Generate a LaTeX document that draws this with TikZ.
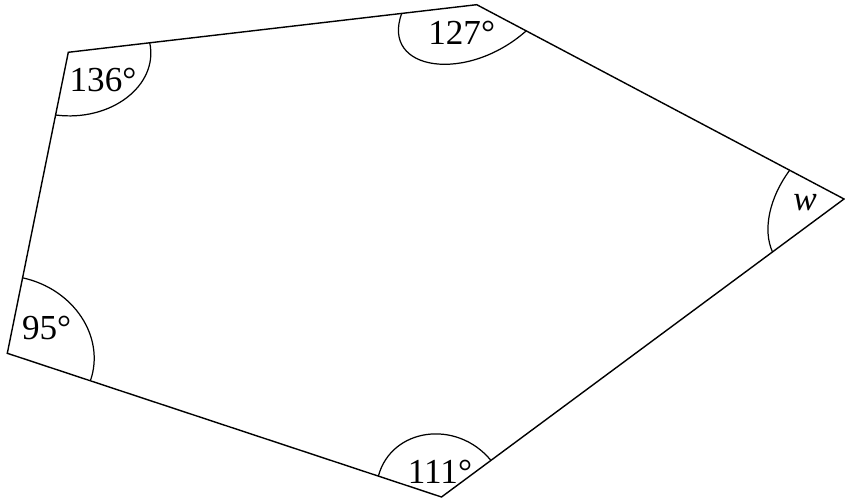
\documentclass[tikz,border=0pt]{standalone}
\usepackage{fontspec}
\setmainfont{Liberation Serif}
\usetikzlibrary{calc}
\tikzset{
  edge/.style={line width=0.8pt,line join=miter},
  anglemark/.style={line width=0.7pt},
  anglelabel/.style={inner sep=0pt,font=\fontsize{20}{24}\selectfont}
}
% arc at vertex #1 between edge to #2 (radius #3) and edge to #4 (radius #5), corner angle #6
\newcommand\cornerarc[6]{%
  \pgfmathsetmacro\arcK{4/3*tan(#6/4)/sin(#6)}%
  \pgfmathsetmacro\arcC{-\arcK*cos(#6)}%
  \draw[anglemark] let \p1=($(#1)!#3!(#2)$), \p2=($(#1)!#5!(#4)$),
    \p3=($(\p1)-(#1)$), \p4=($(\p2)-(#1)$) in
    (\p1) .. controls ($(\p1)+{\arcK}*(\p4)+{\arcC}*(\p3)$)
    and ($(\p2)+{\arcK}*(\p3)+{\arcC}*(\p4)$) .. (\p2);}

\begin{document}
\begin{tikzpicture}
  \useasboundingbox (0,0) rectangle (16.9,10);
  % corners
  \coordinate (A) at (1.366,8.954);
  \coordinate (B) at (9.534,9.906);
  \coordinate (C) at (16.88,6.02);
  \coordinate (D) at (8.83,0.06);
  \coordinate (E) at (0.146,2.934);
  \draw[edge] (A) -- (B) -- (C) -- (D) -- (E) -- cycle;
  % angle arcs
  \cornerarc{A}{B}{1.64cm}{E}{1.28cm}{108.1}
  \cornerarc{B}{A}{1.51cm}{C}{1.12cm}{145.5}
  \cornerarc{C}{B}{1.23cm}{D}{1.78cm}{64.3}
  \cornerarc{D}{E}{1.33cm}{C}{1.23cm}{125.2}
  \cornerarc{E}{A}{1.54cm}{D}{1.75cm}{96.9}
  % labels
  \node[anglelabel] (lA) at (2.06,8.40) {136°};
  \node[anglelabel] (lB) at (9.234,9.334) {127°};
  \node[anglelabel] (lC) at (16.10,5.94) {\textit{w}};
  \node[anglelabel] (lD) at (8.80,0.566) {111°};
  \node[anglelabel] (lE) at (0.934,3.434) {95°};
\end{tikzpicture}
\end{document}
